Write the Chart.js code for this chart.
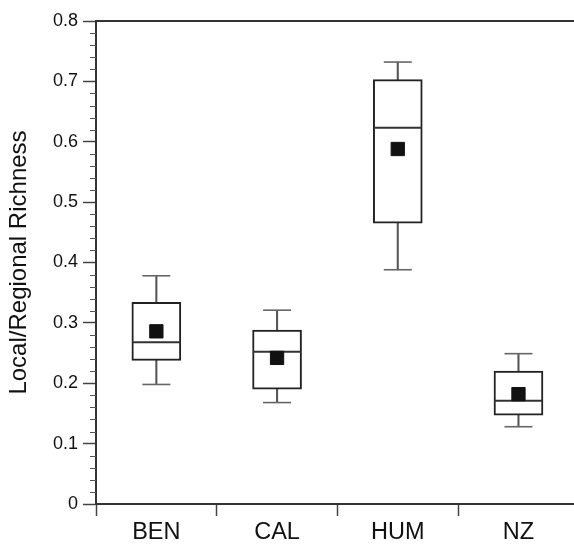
<!DOCTYPE html>
<html>
<head>
<meta charset="utf-8">
<style>
  html, body { margin: 0; padding: 0; background: #fff; overflow: hidden; }
  #wrap { width: 574px; height: 546px; }
</style>
<script src="https://cdn.jsdelivr.net/npm/chart.js@4/dist/chart.umd.min.js"></script>
</head>
<body>
<div id="wrap"><canvas id="box-chart"></canvas></div>
<script>
    "use strict";

    // Box plot values
    var categories = ["BEN", "CAL", "HUM", "NZ"];
    var whiskerLow = [0.198, 0.168, 0.388, 0.128];
    var q1 = [0.238, 0.190, 0.465, 0.147];
    var median = [0.268, 0.252, 0.623, 0.171];
    var q3 = [0.334, 0.288, 0.703, 0.220];
    var whiskerHigh = [0.378, 0.321, 0.732, 0.249];
    var mean = [0.286, 0.242, 0.588, 0.182];
    var yTickLabels = ["0", "0.1", "0.2", "0.3", "0.4", "0.5", "0.6", "0.7", "0.8"];

    function pts(arr) {
        return arr.map(function (v, i) { return { x: i + 1, y: v }; });
    }
    function ranges(lo, hi) {
        return lo.map(function (v, i) { return { x: i + 1, y: [v, hi[i]] }; });
    }

    // Minor ticks + top frame line
    var frame = {
        id: "frame",
        afterDraw: function (chart) {
            var ctx = chart.ctx;
            var y = chart.scales.y;
            var area = chart.chartArea;
            ctx.save();
            ctx.strokeStyle = "#555";
            ctx.lineWidth = 1;
            for (var i = 1; i < 40; i++) {
                if (i % 5 === 0) continue;
                var py = Math.round(y.getPixelForValue(i * 0.02)) + 0.5;
                ctx.beginPath();
                ctx.moveTo(area.left - 6, py);
                ctx.lineTo(area.left, py);
                ctx.stroke();
            }
            ctx.strokeStyle = "#333";
            ctx.lineWidth = 2;
            ctx.beginPath();
            ctx.moveTo(area.left - 1, area.top);
            ctx.lineTo(chart.width, area.top);
            ctx.stroke();
            ctx.restore();
        }
    };

    var ctx1 = document.getElementById("box-chart").getContext("2d");
    new Chart(ctx1, {
        type: "bar",
        data: {
            datasets: [
                {
                    label: "whisker",
                    data: ranges(whiskerLow, whiskerHigh),
                    backgroundColor: "#555",
                    barThickness: 1.4,
                    grouped: false,
                    order: 5
                },
                {
                    label: "box",
                    data: ranges(q1, q3),
                    backgroundColor: "#fff",
                    borderColor: "#222",
                    borderWidth: 2,
                    borderSkipped: false,
                    barThickness: 49,
                    grouped: false,
                    order: 4
                },
                {
                    type: "line",
                    label: "caps low",
                    data: pts(whiskerLow),
                    showLine: false,
                    pointStyle: "line",
                    pointRadius: 14,
                    borderColor: "#666",
                    borderWidth: 1.6,
                    order: 3
                },
                {
                    type: "line",
                    label: "caps high",
                    data: pts(whiskerHigh),
                    showLine: false,
                    pointStyle: "line",
                    pointRadius: 14,
                    borderColor: "#666",
                    borderWidth: 1.6,
                    order: 3
                },
                {
                    type: "line",
                    label: "median",
                    data: pts(median),
                    showLine: false,
                    pointStyle: "line",
                    pointRadius: 24,
                    borderColor: "#333",
                    borderWidth: 2,
                    order: 2
                },
                {
                    type: "line",
                    label: "mean",
                    data: pts(mean),
                    showLine: false,
                    pointStyle: "rect",
                    pointRadius: 9.4,
                    backgroundColor: "#111",
                    borderColor: "#111",
                    borderWidth: 1,
                    order: 1
                }
            ]
        },
        options: {
            responsive: true,
            maintainAspectRatio: false,
            animation: false,
            devicePixelRatio: 1,
            layout: { autoPadding: false, padding: { top: 21, left: 0, right: 0, bottom: 0 } },
            plugins: {
                legend: { display: false },
                tooltip: { enabled: false }
            },
            scales: {
                x: {
                    type: "linear",
                    offset: false,
                    min: 0.5,
                    max: 4.46,
                    afterBuildTicks: function (scale) {
                        scale.ticks = categories.map(function (c, i) { return { value: i + 1 }; });
                    },
                    afterFit: function (scale) {
                        scale.height = 42;
                        scale.paddingLeft = 0;
                        scale.paddingRight = 0;
                    },
                    ticks: {
                        autoSkip: false,
                        maxRotation: 0,
                        padding: 2,
                        color: "#111",
                        font: { family: "'Liberation Sans', Arial, sans-serif", size: 23.5 },
                        callback: function (v) { return categories[Math.round(v) - 1]; }
                    },
                    grid: {
                        offset: true,
                        drawOnChartArea: false,
                        tickLength: 12,
                        tickWidth: 1.5,
                        tickColor: "#444"
                    },
                    border: { color: "#333", width: 2 }
                },
                y: {
                    min: 0,
                    max: 0.8,
                    afterFit: function (scale) {
                        scale.width = 96;
                        scale.paddingTop = 0;
                        scale.paddingBottom = 0;
                    },
                    ticks: {
                        stepSize: 0.1,
                        padding: 5,
                        color: "#111",
                        font: { family: "'Liberation Sans', Arial, sans-serif", size: 18 },
                        callback: function (v) { return yTickLabels[Math.round(v * 10)]; }
                    },
                    grid: {
                        drawOnChartArea: false,
                        tickLength: 13,
                        tickWidth: 1.5,
                        tickColor: "#444"
                    },
                    border: { color: "#333", width: 2 },
                    title: {
                        display: true,
                        text: "Local/Regional Richness",
                        color: "#111",
                        padding: { top: 5, bottom: 0 },
                        font: { family: "'Liberation Sans', Arial, sans-serif", size: 24 }
                    }
                }
            }
        },
        plugins: [frame]
    });
</script>
</body>
</html>
